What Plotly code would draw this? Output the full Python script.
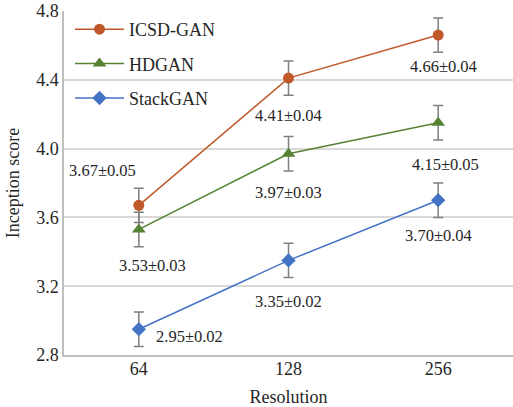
import plotly.graph_objects as go

resolutions = ["64", "128", "256"]
icsd = [3.67, 4.41, 4.66]
icsd_err = [0.05, 0.04, 0.04]
hdgan = [3.53, 3.97, 4.15]
hdgan_err = [0.03, 0.03, 0.05]
stack = [2.95, 3.35, 3.70]
stack_err = [0.02, 0.02, 0.04]
bar_half = 0.1  # visual half-length of the drawn error bars

FONT = "Liberation Serif, Times New Roman, serif"
TXT = "#262626"
xpos = list(range(len(resolutions)))

W, H = 513, 407

series = [
    ("ICSD-GAN", icsd, icsd_err, "#C0582A", "circle", 11,
     [(-36, 35), (0, -37), (5, -31)]),
    ("HDGAN", hdgan, hdgan_err, "#548235", "triangle-up", 12,
     [(14, -36), (0, -39), (7, -42)]),
    ("StackGAN", stack, stack_err, "#4472C4", "diamond", 11,
     [(51, -7), (0, -41), (0, -35)]),
]

fig = go.Figure()
annotations = []
for name, vals, errs, color, sym, size, shifts in series:
    fig.add_trace(go.Scatter(
        x=xpos, y=vals, name=name, mode="lines+markers",
        legendgroup=name,
        line=dict(color=color, width=1.5),
        marker=dict(color=color, symbol=sym, size=size),
        error_y=dict(type="constant", value=bar_half, color="#7F7F7F",
                     thickness=1.5, width=5),
    ))
    for x, v, e, (dx, dy) in zip(xpos, vals, errs, shifts):
        annotations.append(dict(
            x=x, y=v, xref="x", yref="y", text=f"{v:.2f}±{e:.2f}",
            showarrow=False, xshift=dx, yshift=dy,
            font=dict(family=FONT, size=16.5, color=TXT),
        ))

fig.update_layout(
    width=W, height=H,
    margin=dict(l=64, r=0, t=11, b=52),
    paper_bgcolor="white", plot_bgcolor="white",
    font=dict(family=FONT, size=18, color=TXT),
    showlegend=True,
    legend=dict(x=0.0134, y=1.0, xanchor="left", yanchor="top",
                bgcolor="rgba(0,0,0,0)", tracegroupgap=8, itemwidth=49,
                font=dict(family=FONT, size=18, color=TXT)),
    annotations=annotations,
)
fig.update_xaxes(
    range=[-0.5, 2.5], tickvals=xpos, ticktext=resolutions,
    showgrid=False, showline=True, linecolor="#BFBFBF", zeroline=False,
    linewidth=1.5, ticks="", tickfont=dict(family=FONT, size=18, color=TXT),
    title=dict(text="Resolution", font=dict(family=FONT, size=18, color=TXT),
               standoff=12),
)
fig.update_yaxes(
    range=[2.8, 4.8], dtick=0.4, tick0=2.8, tickformat=".1f",
    showgrid=True, gridcolor="#D9D9D9", gridwidth=1.5,
    showline=True, linecolor="#BFBFBF", linewidth=1.5, ticks="",
    zeroline=False, tickfont=dict(family=FONT, size=18, color=TXT),
    ticklabeloverflow="allow",
    title=dict(text="Inception score", font=dict(family=FONT, size=18, color=TXT),
               standoff=12),
)
try:
    fig.update_xaxes(ticklabelstandoff=-3)
except Exception:
    pass
fig.write_html("out.html", config={"displayModeBar": False},
               post_script="document.body.style.margin='0';")
